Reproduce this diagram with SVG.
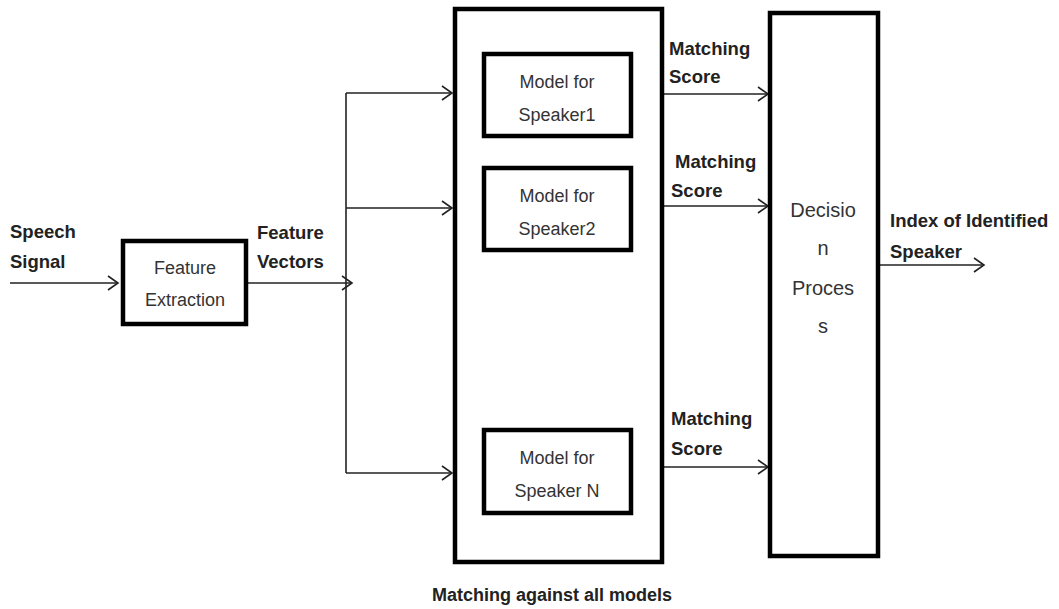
<svg xmlns="http://www.w3.org/2000/svg" width="1059" height="609" viewBox="0 0 1059 609">
<style>
.box{fill:#fff;stroke:#000;stroke-width:4.5}
.in{font-family:"Liberation Sans",Arial,sans-serif;font-size:18px;fill:#333;text-anchor:middle}
.lbl{font-family:"Liberation Sans",Arial,sans-serif;font-size:18.5px;font-weight:bold;fill:#222}
.con{fill:none;stroke:#222;stroke-width:1.6}
.ah{fill:none;stroke:#222;stroke-width:1.6}
</style>
<defs>
<marker id="arr" markerWidth="14" markerHeight="16" refX="11" refY="8" orient="auto" markerUnits="userSpaceOnUse">
<path d="M1,1 L11,8 L1,15" class="ah"/>
</marker>
</defs>
<rect width="1059" height="609" fill="#fff"/>
<g id="connectors">
<line class="con" x1="10" y1="283" x2="118" y2="283" marker-end="url(#arr)"/>
<line class="con" x1="247" y1="283" x2="352" y2="283" marker-end="url(#arr)"/>
<line class="con" x1="346" y1="93" x2="346" y2="473"/>
<line class="con" x1="346" y1="93" x2="452" y2="93" marker-end="url(#arr)"/>
<line class="con" x1="346" y1="208" x2="452" y2="208" marker-end="url(#arr)"/>
<line class="con" x1="346" y1="473" x2="452" y2="473" marker-end="url(#arr)"/>
<line class="con" x1="663" y1="94" x2="768" y2="94" marker-end="url(#arr)"/>
<line class="con" x1="663" y1="206" x2="768" y2="206" marker-end="url(#arr)"/>
<line class="con" x1="663" y1="467" x2="768" y2="467" marker-end="url(#arr)"/>
<line class="con" x1="878" y1="265" x2="984" y2="265" marker-end="url(#arr)"/>
</g>
<g id="labels">
<text class="lbl" x="10" y="238">Speech</text>
<text class="lbl" x="10" y="268">Signal</text>
<text class="lbl" x="257" y="239">Feature</text>
<text class="lbl" x="257" y="268">Vectors</text>
<text class="lbl" x="669" y="55">Matching</text>
<text class="lbl" x="669" y="83">Score</text>
<text class="lbl" x="675" y="168">Matching</text>
<text class="lbl" x="671" y="197">Score</text>
<text class="lbl" x="671" y="425">Matching</text>
<text class="lbl" x="671" y="455">Score</text>
<text class="lbl" x="890" y="227">Index of Identified</text>
<text class="lbl" x="890" y="258">Speaker</text>
<text class="lbl" x="552" y="601" text-anchor="middle" style="font-size:18px">Matching against all models</text>
</g>
<g id="feature-extraction">
<rect class="box" x="123" y="241" width="123" height="83"/>
<text class="in" x="185" y="274">Feature</text>
<text class="in" x="185" y="306">Extraction</text>
</g>
<g id="matching-block">
<rect class="box" x="455" y="9" width="207" height="553"/>
</g>
<g id="model-1">
<rect class="box" x="484" y="54" width="147" height="82"/>
<text class="in" x="557" y="88">Model for</text>
<text class="in" x="557" y="121">Speaker1</text>
</g>
<g id="model-2">
<rect class="box" x="484" y="168" width="147" height="82"/>
<text class="in" x="557" y="202">Model for</text>
<text class="in" x="557" y="235">Speaker2</text>
</g>
<g id="model-n">
<rect class="box" x="484" y="430" width="147" height="83"/>
<text class="in" x="557" y="464">Model for</text>
<text class="in" x="557" y="497">Speaker N</text>
</g>
<g id="decision">
<rect class="box" x="770" y="13" width="108" height="543"/>
<text class="in" x="823" y="217" style="font-size:20px">Decisio</text>
<text class="in" x="823" y="255" style="font-size:20px">n</text>
<text class="in" x="823" y="295" style="font-size:20px">Proces</text>
<text class="in" x="823" y="333" style="font-size:20px">s</text>
</g>
</svg>
